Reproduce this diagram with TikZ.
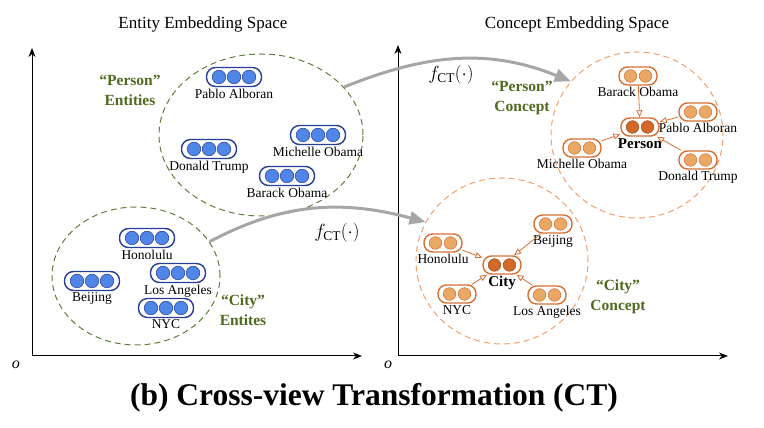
\documentclass[tikz,border=0pt]{standalone}
\usepackage{fix-cm}
\usepackage{fontspec}
\setmainfont{Liberation Serif}
\usetikzlibrary{arrows.meta,shapes.geometric}
\definecolor{entfill}{RGB}{79,134,232}
\definecolor{entline}{RGB}{38,62,150}
\definecolor{confill}{RGB}{233,168,99}
\definecolor{conline}{RGB}{214,110,52}
\definecolor{cenfill}{RGB}{210,105,40}
\definecolor{cenline}{RGB}{160,75,25}
\definecolor{grn}{RGB}{78,106,30}
\definecolor{grnell}{RGB}{95,125,60}
\definecolor{orgell}{RGB}{242,160,108}
\definecolor{ctgray}{RGB}{166,166,166}
\newcommand{\EntVec}[4]{%
  \node[entbox,label={[veclab]below:#4}] (#1) at (#2,#3) {};
  \foreach \d in {-15,0,15}
    \filldraw[entdot] ([xshift=\d pt]#1.center) circle (6.8pt);
}
\newcommand{\ConVec}[5]{%
  \node[conbox,label={[veclab]below:#4}] (#1) at (#2,#3) {};
  \foreach \d in {-7.5,7.5}
    \filldraw[#5] ([xshift=\d pt]#1.center) circle (6.3pt);
}
\tikzset{
  entbox/.style={draw=entline,line width=1.4pt,rounded corners=9pt,minimum width=55pt,minimum height=19pt,inner sep=0pt},
  conbox/.style={draw=conline,line width=1.4pt,rounded corners=8.5pt,minimum width=38pt,minimum height=18pt,inner sep=0pt},
  entdot/.style={fill=entfill,draw=entline,line width=0.5pt},
  condot/.style={fill=confill,draw=conline,line width=0.5pt},
  cendot/.style={fill=cenfill,draw=cenline,line width=0.5pt},
  veclab/.style={font=\fontsize{13.5}{15}\selectfont,inner sep=0pt,label distance=1.5pt},
  grplab/.style={font=\fontsize{15.5}{20}\selectfont\bfseries,text=grn,align=center},
  entell/.style={ellipse,draw=grnell,line width=1pt,dash pattern=on 6pt off 4pt,inner sep=0pt},
  conell/.style={ellipse,draw=orgell,line width=1pt,dash pattern=on 6pt off 4pt,inner sep=0pt},
  axis/.style={line width=1pt,{Stealth[length=9pt,width=7pt]}-{Stealth[length=9pt,width=7pt]}},
  ctarr/.style={draw=ctgray,line width=3pt,-{Triangle[length=16pt,width=13pt]}},
  conarr/.style={draw=conline,line width=0.8pt,-{Triangle[open,length=7pt,width=6pt]}},
  orig/.style={font=\fontsize{16}{18}\selectfont\itshape}
}
\begin{document}
\begin{tikzpicture}[x=1pt,y=1pt]
\useasboundingbox (0,0) rectangle (764,428);
% axes
\coordinate (lO) at (32,72);
\coordinate (lY) at (32,380);
\coordinate (lX) at (362,72);
\coordinate (rO) at (398,72);
\coordinate (rY) at (398,383);
\coordinate (rX) at (728,72);
\draw[axis] (lY) -- (lO) -- (lX);
\draw[axis] (rY) -- (rO) -- (rX);
\node[orig] (lOlab) at (16,63) {o};
\node[orig] (rOlab) at (388,63) {o};
\node (entTitle) at (203,404) {\fontsize{17}{20}\selectfont Entity Embedding Space};
\node (conTitle) at (577,404) {\fontsize{17}{20}\selectfont Concept Embedding Space};

% clusters
\node[entell,minimum width=204pt,minimum height=162pt] (perEnt) at (261,293) {};
\node[entell,minimum width=168pt,minimum height=138pt] (cityEnt) at (136,152) {};
\node[conell,minimum width=172pt,minimum height=166pt] (perCon) at (637,293) {};
\node[conell,minimum width=172pt,minimum height=166pt] (cityCon) at (502,167) {};

\node[grplab] (perEntLab) at (130,338) {``Person''\\Entities};
\node[grplab] (cityEntLab) at (243,118) {``City''\\Entites};
\node[grplab] (perConLab) at (522,330) {``Person''\\Concept};
\node[grplab] (cityConLab) at (618,131) {``City''\\Concept};

% entity vectors
\EntVec{entPablo}{234}{351}{Pablo Alboran}
\EntVec{entDonald}{209}{279}{Donald Trump}
\EntVec{entMichelle}{318}{293}{Michelle Obama}
\EntVec{entBarack}{287}{252}{Barack Obama}
\EntVec{entHonolulu}{147}{190}{Honolulu}
\EntVec{entBeijing}{92}{147}{Beijing}
\EntVec{entLA}{178}{155}{Los Angeles}
\EntVec{entNYC}{166}{120}{NYC}

% concept vectors
\ConVec{conBarack}{638}{352}{Barack Obama}{condot}
\ConVec{conPablo}{698}{316}{Pablo Alboran}{condot}
\ConVec{conPerson}{640}{301}{\fontsize{15}{17}\selectfont\bfseries Person}{cendot}
\ConVec{conMichelle}{582}{280}{Michelle Obama}{condot}
\ConVec{conDonald}{698}{268}{Donald Trump}{condot}
\ConVec{conBeijing}{553}{204}{Beijing}{condot}
\ConVec{conHonolulu}{443}{185}{Honolulu}{condot}
\ConVec{conCity}{502}{163}{\fontsize{15}{17}\selectfont\bfseries City}{cendot}
\ConVec{conNYC}{457}{134}{NYC}{condot}
\ConVec{conLA}{547}{133}{Los Angeles}{condot}

\path[conarr] (conBarack) edge (conPerson)
  (conPablo) edge (conPerson)
  (conMichelle) edge (conPerson)
  (conDonald) edge (conPerson);
\path[conarr] (conHonolulu) edge (conCity)
  (conBeijing) edge (conCity)
  (conNYC) edge (conCity)
  (conLA) edge (conCity);

% cross-view transformation
\draw[ctarr] (perEnt.30) to[out=22,in=158] (perCon.141);
\draw[ctarr] (cityEnt.25) to[out=28,in=165] (cityCon.153);
\node (fTop) at (451,353) {\fontsize{19}{22}\selectfont$f_{\mathrm{CT}}(\cdot)$};
\node (fBot) at (337,195) {\fontsize{19}{22}\selectfont$f_{\mathrm{CT}}(\cdot)$};

\node (caption) at (374,30) {\fontsize{31.5}{36}\selectfont\bfseries (b) Cross-view Transformation (CT)};
\end{tikzpicture}
\end{document}
